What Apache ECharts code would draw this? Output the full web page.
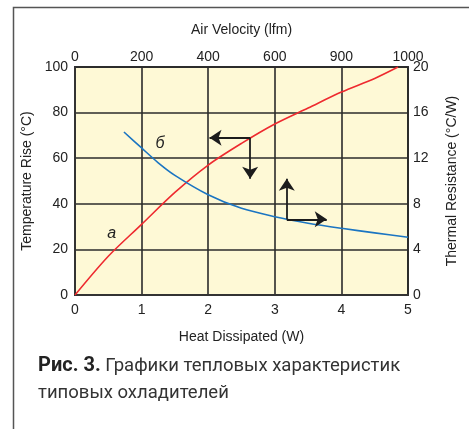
<!DOCTYPE html>
<html><head><meta charset="utf-8">
<script src="https://cdn.jsdelivr.net/npm/echarts@6/dist/echarts.min.js"></script>
<style>html,body{margin:0;padding:0;background:#fff}#c{width:469px;height:429px}</style>
</head><body><div id="c"></div>
<script>
// Curve a: temperature rise vs heat dissipated (bottom / left axes)
const heatW = [0, 0.5, 1, 1.5, 2, 2.5, 3, 3.5, 4, 4.5, 4.85];
const tempRise = [0, 17, 31, 45, 57, 66.5, 75, 82, 89, 95, 100];
// Curve б: thermal resistance vs air velocity (top / right axes)
const airLfm = [147, 200, 250, 300, 400, 500, 600, 700, 800, 900, 1000];
const thermalRes = [14.3, 12.9, 11.6, 10.5, 8.8, 7.6, 6.87, 6.3, 5.85, 5.45, 5.06];
// tick labels
const topTickLabels = ['0', '200', '400', '600', '900', '1000'];
// arrow annotations (data coords)
const arrowA = {from: [2.63, 69], left: [2.02, 69], down: [2.63, 51]};
const arrowB = {from: [636, 6.64], up: [636, 10.2], right: [756, 6.64]};
const labelA = [0.55, 27];
const labelB = [255, 13.3];

const chart = echarts.init(document.getElementById('c'));
const font = 'Liberation Sans, Arial, sans-serif';
const txt = '#222';
const gridLine = {show: true, lineStyle: {color: '#2b2b2b', width: 1.6}};
const axisLine = {show: true, lineStyle: {color: '#333', width: 2}};
const arrowStyle = {color: '#1c1c1c', width: 1.8, type: 'solid'};

chart.setOption({
  animation: false,
  textStyle: {fontFamily: font},
  grid: {left: 75, right: 61, top: 67, bottom: 134, show: true,
         backgroundColor: '#FEF9D6', borderColor: '#333', borderWidth: 2},
  xAxis: [
    {type: 'value', position: 'bottom', min: 0, max: 5, interval: 1,
     name: 'Heat Dissipated (W)', nameLocation: 'middle', nameGap: 35,
     nameTextStyle: {fontSize: 14, color: txt, fontFamily: font},
     axisLine: axisLine, axisTick: {show: false}, splitLine: gridLine,
     axisLabel: {fontSize: 14, color: txt, margin: 8, fontFamily: font}},
    {type: 'value', position: 'top', min: 0, max: 1000, interval: 200,
     name: 'Air Velocity (lfm)', nameLocation: 'middle', nameGap: 30,
     nameTextStyle: {fontSize: 14, color: txt, fontFamily: font},
     axisLine: axisLine, axisTick: {show: false}, splitLine: {show: false},
     axisLabel: {fontSize: 14, color: txt, margin: 3, fontFamily: font,
       formatter: v => topTickLabels[Math.round(v / 200)]}}
  ],
  yAxis: [
    {type: 'value', position: 'left', min: 0, max: 100, interval: 20,
     name: 'Temperature Rise (°C)', nameLocation: 'middle', nameGap: 40, nameRotate: 90,
     nameTextStyle: {fontSize: 14, color: txt, fontFamily: font},
     axisLine: axisLine, axisTick: {show: false}, splitLine: gridLine,
     axisLabel: {fontSize: 14, color: txt, margin: 7, fontFamily: font}},
    {type: 'value', position: 'right', min: 0, max: 20, interval: 4,
     name: 'Thermal Resistance (°C/W)', nameLocation: 'middle', nameGap: 37, nameRotate: 90,
     nameTextStyle: {fontSize: 14, color: txt, fontFamily: font},
     axisLine: axisLine, axisTick: {show: false}, splitLine: {show: false},
     axisLabel: {fontSize: 14, color: txt, margin: 5, fontFamily: font}}
  ],
  series: [
    {type: 'line', xAxisIndex: 0, yAxisIndex: 0, smooth: 0.3, showSymbol: false,
     lineStyle: {color: '#EE2A2F', width: 1.6},
     data: heatW.map((x, i) => [x, tempRise[i]]),
     markLine: {silent: true, symbol: ['none', 'arrow'], symbolSize: 12,
       label: {show: false}, lineStyle: arrowStyle, itemStyle: {color: '#1c1c1c'},
       data: [[{coord: arrowA.from}, {coord: arrowA.left}], [{coord: arrowA.from}, {coord: arrowA.down}]]},
     markPoint: {silent: true, symbol: 'circle', symbolSize: 0,
       label: {show: true, position: 'inside', formatter: 'а', fontStyle: 'italic', fontSize: 16, color: txt, fontFamily: font},
       data: [{coord: labelA}]}},
    {type: 'line', xAxisIndex: 1, yAxisIndex: 1, smooth: 0.3, showSymbol: false,
     lineStyle: {color: '#1B75C2', width: 1.6},
     data: airLfm.map((x, i) => [x, thermalRes[i]]),
     markLine: {silent: true, symbol: ['none', 'arrow'], symbolSize: 12,
       label: {show: false}, lineStyle: arrowStyle, itemStyle: {color: '#1c1c1c'},
       data: [[{coord: arrowB.from}, {coord: arrowB.up}], [{coord: arrowB.from}, {coord: arrowB.right}]]},
     markPoint: {silent: true, symbol: 'circle', symbolSize: 0,
       label: {show: true, position: 'inside', formatter: 'б', fontStyle: 'italic', fontSize: 16, color: txt, fontFamily: font},
       data: [{coord: labelB}]}}
  ],
  graphic: [
    {type: 'polyline', shape: {points: [[13.5, 440], [13.5, 7.5], [480, 7.5]]},
     style: {stroke: '#555', lineWidth: 1.5, fill: null}},
    {type: 'text', left: 38, top: 356,
     style: {text: '{b|Рис. 3.} Графики тепловых характеристик', fill: '#333',
       font: '18.5px Roboto', rich: {b: {fontWeight: 'bold', fontSize: 20, fontFamily: 'Roboto', fill: '#222'}}}},
    {type: 'text', left: 38, top: 384,
     style: {text: 'типовых охладителей', fill: '#333', font: '18.5px Roboto'}}
  ]
});
</script></body></html>
